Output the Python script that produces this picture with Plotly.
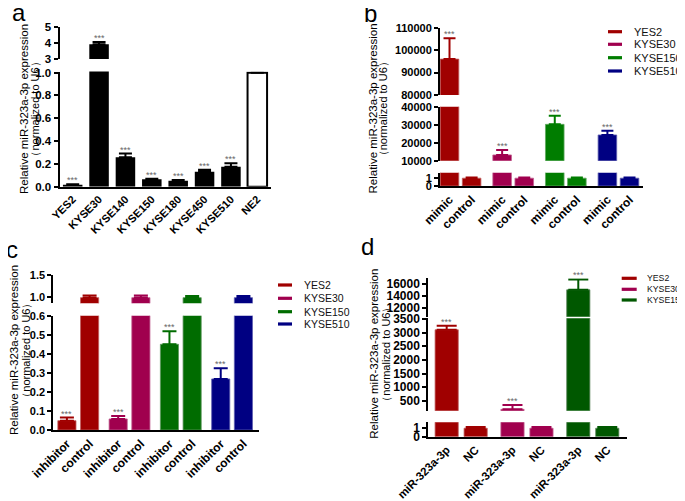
import plotly.graph_objects as go

W, H = 685, 501
OFF = 8  # page body margin of the browser
FW, FH = W - OFF, H - OFF
FONT = "Liberation Sans, Arial, sans-serif"

# ---- data ----
a_lines = ["YES2", "KYSE30", "KYSE140", "KYSE150", "KYSE180", "KYSE450", "KYSE510", "NE2"]
a_mean = [0.018, 3.93, 0.258, 0.065, 0.053, 0.132, 0.175, 1.0]
a_err = [0.004, 0.15, 0.033, 0.005, 0.005, 0.017, 0.03, 0.0]
a_sig = ["***", "***", "***", "***", "***", "***", "***", ""]

lines4 = ["YES2", "KYSE30", "KYSE150", "KYSE510"]
b_cond = ["mimic", "control"]
b_mimic = [96000, 13200, 30200, 24300]
b_mimic_err = [9300, 2700, 4800, 2400]
b_control = [1.0, 1.0, 1.0, 1.0]
b_control_err = [0.1, 0.1, 0.1, 0.1]

c_cond = ["inhibitor", "control"]
c_inhib = [0.049, 0.058, 0.45, 0.268]
c_inhib_err = [0.016, 0.015, 0.068, 0.056]
c_control = [0.98, 0.98, 0.98, 0.98]
c_control_err = [0.05, 0.05, 0.04, 0.04]

lines3 = ["YES2", "KYSE30", "KYSE150"]
d_cond = ["miR-323a-3p", "NC"]
d_mir = [3100, 190, 15050]
d_mir_err = [150, 160, 1750]
d_nc = [1.0, 1.0, 1.0]
d_nc_err = [0.15, 0.15, 0.15]

colors_bc = {"YES2": "#A00000", "KYSE30": "#A0004E", "KYSE150": "#007D00", "KYSE510": "#000082"}
colors_c = {"YES2": "#A00000", "KYSE30": "#A0004E", "KYSE150": "#006C00", "KYSE510": "#000082"}
colors_d = {"YES2": "#A00000", "KYSE30": "#A0004E", "KYSE150": "#005800"}
edges = {"#A00000": "#C06060", "#A0004E": "#C06090", "#007D00": "#60A860", "#006C00": "#609860",
         "#000082": "#6060B0", "#005800": "#608860"}


def fx(p):
    return (p - OFF) / FW


def fy(p):
    return 1 - (p - OFF) / FH


fig = go.Figure()
layout = {}
annotations = []
shapes = []
counter = [0]


def add_panel(series, segs, x_px, xrange, tickvals, ticktext, bar_w, cap, ysize, xsize):
    names = []
    for k, seg in enumerate(segs):
        counter[0] += 1
        n = counter[0]
        sx = "" if n == 1 else str(n)
        names.append(sx)
        first = k == 0
        layout["xaxis" + sx] = dict(
            domain=[fx(x_px[0]), fx(x_px[1])], range=xrange, anchor="y" + sx,
            visible=first, showline=True, linecolor="black", linewidth=2,
            ticks="", tickvals=tickvals, ticktext=ticktext, tickangle=-45,
            tickfont=dict(family=FONT, size=xsize, color="black", weight="bold"),
            showgrid=False, zeroline=False, fixedrange=True, automargin=False,
        )
        layout["yaxis" + sx] = dict(
            domain=[fy(seg["bottom"]), fy(seg["top"])], range=seg["range"],
            anchor="x" + sx, showline=True, linecolor="black", linewidth=2,
            ticks="outside", ticklen=4, tickwidth=2, tickcolor="black",
            tickvals=seg["ticks"], tickformat=seg["fmt"],
            tickfont=dict(family=FONT, size=ysize, color="black", weight="bold"),
            showgrid=False, zeroline=False, fixedrange=True, automargin=False,
        )
        for s in series:
            fig.add_trace(go.Bar(
                x=s["x"], y=s["y"], width=bar_w,
                marker=dict(color=s["fill"], line=dict(color=s["edge"], width=s["lw"])),
                error_y=dict(type="data", symmetric=False, array=s["err"],
                             arrayminus=[0] * len(s["y"]), color=s["color"],
                             thickness=2, width=cap),
                xaxis="x" + sx, yaxis="y" + sx, showlegend=False, hoverinfo="skip",
            ))
    # significance stars above the error bars
    for s in series:
        for xv, yv, ev, txt in zip(s["x"], s["y"], s["err"], s["sig"]):
            if not txt:
                continue
            top = yv + ev
            for seg, sx in zip(segs, names):
                if seg["range"][0] <= top <= seg["range"][1]:
                    annotations.append(dict(
                        x=xv, y=top, xref="x" + sx, yref="y" + sx, text=txt,
                        showarrow=False, yanchor="bottom", yshift=-3,
                        font=dict(family=FONT, size=9, color="#666666")))
                    break


def ytitle(xl1, xl2, yc, size=11.5):
    annotations.append(dict(x=fx(xl1), y=fy(yc), xref="paper", yref="paper",
                            text="Relative miR-323a-3p expression", textangle=-90,
                            showarrow=False, xanchor="center", yanchor="middle",
                            font=dict(family=FONT, size=size, color="black")))
    annotations.append(dict(x=fx(xl2), y=fy(yc), xref="paper", yref="paper",
                            text="（normalized to U6）", textangle=-90,
                            showarrow=False, xanchor="center", yanchor="middle",
                            font=dict(family=FONT, size=size - 0.5, color="black")))


def legend(names, cols, x0, x1, xt, rows, size):
    for nm, yr in zip(names, rows):
        shapes.append(dict(type="rect", xref="paper", yref="paper",
                           x0=fx(x0), x1=fx(x1), y0=fy(yr + 1.6), y1=fy(yr - 1.6),
                           fillcolor=cols[nm], line=dict(width=0)))
        annotations.append(dict(x=fx(xt), y=fy(yr), xref="paper", yref="paper",
                                text=nm, showarrow=False, xanchor="left", yanchor="middle",
                                font=dict(family=FONT, size=size, color="#111111")))


def letter(t, x, y):
    annotations.append(dict(x=fx(x), y=fy(y), xref="paper", yref="paper", text=t,
                            showarrow=False, xanchor="center", yanchor="middle",
                            font=dict(family=FONT, size=24, color="black")))


# ---- panel a ----
a_series = [dict(
    x=a_lines, y=a_mean, err=a_err, sig=a_sig, color="black",
    fill=["white" if n == "NE2" else "black" for n in a_lines],
    edge="black", lw=[2 if n == "NE2" else 0 for n in a_lines])]
add_panel(a_series,
          [dict(range=[0, 1.01], top=71.5, bottom=186.7, ticks=[0, 0.2, 0.4, 0.6, 0.8, 1.0], fmt=".1f"),
           dict(range=[3, 5], top=27.3, bottom=59, ticks=[3, 4, 5], fmt="d")],
          [59.5, 270.5], [-0.5, 7.5], a_lines, a_lines, 0.74, 6.5, 11.5, 11)
ytitle(24, 34.5, 109)
letter("a", 19, 12)


def grouped(names, v1, e1, v2, e2, pitch, cols):
    out = []
    for g, nm in enumerate(names):
        out.append(dict(x=[g * pitch, g * pitch + 1], y=[v1[g], v2[g]], err=[e1[g], e2[g]],
                        sig=["***", ""], color=cols[nm], fill=cols[nm],
                        edge=edges[cols[nm]], lw=0.8))
    return out


# ---- panel b ----
pb = 2.38
b_series = grouped(lines4, b_mimic, b_mimic_err, b_control, b_control_err, pb, colors_bc)
b_ticks = [g * pb + j for g in range(len(lines4)) for j in range(2)]
add_panel(b_series,
          [dict(range=[0, 1.7], top=172.7, bottom=186, ticks=[0, 1], fmt="d"),
           dict(range=[10000, 40000], top=106.7, bottom=160.7, ticks=[10000, 20000, 30000, 40000], fmt="d"),
           dict(range=[80000, 110000], top=27.7, bottom=95, ticks=[80000, 90000, 100000, 110000], fmt="d")],
          [440, 643], [-0.43, 8.75], b_ticks, b_cond * len(lines4), 0.84, 6, 11, 12)
ytitle(372.5, 383.3, 109)
letter("b", 370, 14)
legend(lines4, colors_bc, 608, 622, 631.7, [31.7, 44.3, 57.7, 71], 11)

# ---- panel c ----
pc = 2.26
c_series = grouped(lines4, c_inhib, c_inhib_err, c_control, c_control_err, pc, colors_c)
c_ticks = [g * pc + j for g in range(len(lines4)) for j in range(2)]
add_panel(c_series,
          [dict(range=[0, 0.6], top=315.7, bottom=430, ticks=[0, 0.1, 0.2, 0.3, 0.4, 0.5, 0.6], fmt=".1f"),
           dict(range=[0.85, 1.5], top=275, bottom=303.3, ticks=[1.0, 1.5], fmt=".1f")],
          [53.3, 259.3], [-0.6, 8.48], c_ticks, c_cond * len(lines4), 0.8, 7, 11, 12)
ytitle(14, 25.7, 350)
letter("c", 12, 249)
legend(lines4, colors_c, 278, 292, 301.7, [285, 298.3, 311.7, 324], 10.5)

# ---- panel d ----
pd_ = 2.27
d_series = grouped(lines3, d_mir, d_mir_err, d_nc, d_nc_err, pd_, colors_d)
d_ticks = [g * pd_ + j for g in range(len(lines3)) for j in range(2)]
add_panel(d_series,
          [dict(range=[0, 1.7], top=422.3, bottom=436.7, ticks=[0, 1], fmt="d"),
           dict(range=[140, 3520], top=318.3, bottom=410.7, ticks=[500, 1000, 1500, 2000, 2500, 3000, 3500], fmt="d"),
           dict(range=[10500, 17000], top=278.3, bottom=316.7, ticks=[12000, 14000, 16000], fmt="d")],
          [428.3, 626.7], [-0.634, 6.21], d_ticks, d_cond * len(lines3), 0.8, 10, 12, 11.5)
ytitle(373.7, 385.7, 354)
letter("d", 367, 247)
legend(lines3, colors_d, 621.7, 636.7, 644.5, [278.3, 289.3, 300], 8.7)

fig.update_layout(
    **layout,
    width=FW, height=FH, margin=dict(l=0, r=0, t=0, b=0, pad=0, autoexpand=False),
    barmode="overlay", showlegend=False,
    paper_bgcolor="white", plot_bgcolor="white",
    annotations=annotations, shapes=shapes,
    font=dict(family=FONT),
)
fig.write_html("out.html")
